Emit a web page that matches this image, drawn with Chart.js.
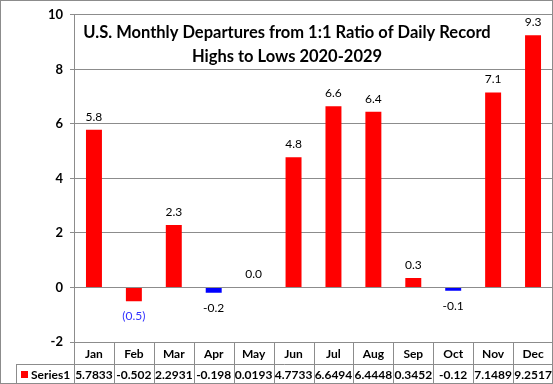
<!DOCTYPE html>
<html>
<head>
<meta charset="utf-8">
<title>U.S. Monthly Departures</title>
<script src="https://cdn.jsdelivr.net/npm/chart.js@4.4.0/dist/chart.umd.min.js"></script>
<style>
  body { margin: 0; background: #fff; }
  canvas { display: block; }
</style>
</head>
<body>
<canvas id="myChart" width="553" height="384"></canvas>
<script>
// Setup values
var months = ["Jan", "Feb", "Mar", "Apr", "May", "Jun", "Jul", "Aug", "Sep", "Oct", "Nov", "Dec"];
var series1 = [5.7833, -0.502, 2.2931, -0.198, 0.0193, 4.7733, 6.6494, 6.4448, 0.3452, -0.12, 7.1489, 9.2517];
var tableText = ["5.7833", "-0.502", "2.2931", "-0.198", "0.0193", "4.7733", "6.6494", "6.4448", "0.3452", "-0.12", "7.1489", "9.2517"];
var labelText = ["5.8", "(0.5)", "2.3", "-0.2", "0.0", "4.8", "6.6", "6.4", "0.3", "-0.1", "7.1", "9.3"];
var yTicks = [-2, 0, 2, 4, 6, 8, 10];
var seriesName = "Series1";
var titleLines = ["U.S. Monthly Departures from 1:1 Ratio of Daily Record", "Highs to Lows 2020-2029"];

var RED = "#ff0000";
var BLUE = "#0000ff";
var barColors = [RED, RED, RED, BLUE, RED, RED, RED, RED, RED, BLUE, RED, RED];
var labelColors = ["#000", "#3333ff", "#000", "#000", "#000", "#000", "#000", "#000", "#000", "#000", "#000", "#000"];
var GRID = "#8c8c8c";
var FONT = "Lato, Calibri, 'Open Sans', sans-serif";

// Value labels on the bars
var barLabels = {
  id: "barLabels",
  afterDatasetsDraw: function (chart) {
    var ctx = chart.ctx;
    var meta = chart.getDatasetMeta(0);
    ctx.save();
    ctx.font = "12px " + FONT;
    ctx.textAlign = "center";
    ctx.textBaseline = "middle";
    meta.data.forEach(function (bar, i) {
      ctx.fillStyle = labelColors[i];
      var y = series1[i] >= 0 ? bar.y - 13 : bar.y + 15;
      ctx.fillText(labelText[i], bar.x, y);
    });
    ctx.restore();
  }
};

// Title, data table and frame
var extras = {
  id: "extras",
  afterDraw: function (chart) {
    var ctx = chart.ctx;
    var area = chart.chartArea;
    var x = chart.scales.x;
    var colW = (area.right - area.left) / months.length;
    var top = area.bottom;
    var mid = top + 22;
    var bottom = 383;
    var legLeft = 16.5;

    ctx.save();
    // title
    ctx.fillStyle = "#000";
    ctx.font = "bold 16.5px " + FONT;
    ctx.textAlign = "center";
    ctx.textBaseline = "middle";
    ctx.fillText(titleLines[0], 287, 33);
    ctx.fillText(titleLines[1], 287, 57);

    // table lines
    ctx.strokeStyle = GRID;
    ctx.lineWidth = 1;
    ctx.beginPath();
    ctx.moveTo(area.left, top + 0.5);
    ctx.lineTo(area.right, top + 0.5);
    ctx.moveTo(legLeft, mid + 0.5);
    ctx.lineTo(area.right, mid + 0.5);
    ctx.moveTo(legLeft, mid);
    ctx.lineTo(legLeft, bottom);
    for (var i = 0; i <= months.length; i++) {
      var lx = Math.round(area.left + i * colW) + 0.5;
      ctx.moveTo(lx, top);
      ctx.lineTo(lx, bottom);
    }
    ctx.stroke();

    // table text
    ctx.font = "bold 12px " + FONT;
    ctx.fillStyle = "#000";
    ctx.textAlign = "center";
    months.forEach(function (m, i) {
      var cx = x.getPixelForValue(i);
      ctx.fillText(m, cx, top + 12);
      ctx.fillText(tableText[i], cx, mid + 11);
    });
    ctx.fillStyle = RED;
    ctx.fillRect(21, mid + 7, 7, 7);
    ctx.fillStyle = "#000";
    ctx.textAlign = "left";
    ctx.fillText(seriesName, 31, mid + 11);

    // outer frame
    ctx.strokeStyle = GRID;
    ctx.strokeRect(0.5, 0.5, 552, 383);
    ctx.restore();
  }
};

// Setting up the chart
var myChart = document.getElementById("myChart").getContext("2d");
var chart = new Chart(myChart, {
  type: "bar",
  data: {
    labels: months,
    datasets: [{
      label: seriesName,
      data: series1,
      backgroundColor: barColors,
      barPercentage: 0.4,
      categoryPercentage: 1.0
    }]
  },
  options: {
    responsive: false,
    animation: false,
    layout: { padding: { top: 9, right: 0, bottom: 42, left: 0 } },
    plugins: {
      legend: { display: false },
      title: { display: false },
      tooltip: { enabled: false }
    },
    scales: {
      x: { display: false },
      y: {
        min: -2,
        max: 10,
        afterBuildTicks: function (scale) {
          scale.ticks = yTicks.map(function (v) { return { value: v }; });
        },
        afterFit: function (scale) { scale.width = 74; },
        ticks: {
          color: "#000",
          padding: 7,
          font: { family: FONT, size: 13, weight: "bold" }
        },
        grid: { color: GRID, tickColor: GRID, tickLength: 4 },
        border: { color: GRID }
      }
    }
  },
  plugins: [barLabels, extras]
});
</script>
</body>
</html>
